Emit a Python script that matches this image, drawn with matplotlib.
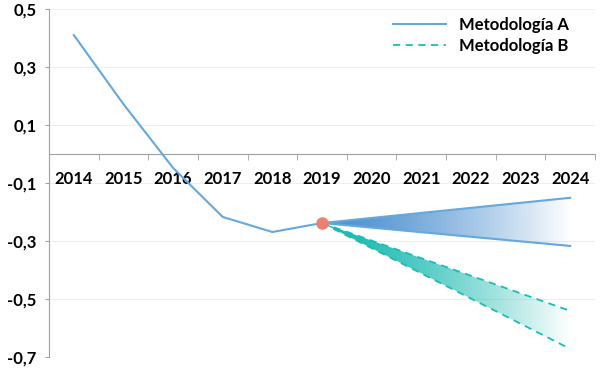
import numpy as np
import matplotlib
matplotlib.use('Agg')
import matplotlib.pyplot as plt
from matplotlib.patches import Polygon
from matplotlib.colors import to_rgb

years = ['2014', '2015', '2016', '2017', '2018', '2019', '2020', '2021', '2022', '2023', '2024']
hist = [0.41, 0.172, -0.048, -0.217, -0.269, -0.238]
# fan ends at 2024 (start at 2019 value)
fanA = [-0.151, -0.317]
fanB = [-0.541, -0.672]
yticks = [0.5, 0.3, 0.1, -0.1, -0.3, -0.5, -0.7]

colA = '#64a8de'
fillA = '#4b8fd0'
colB = '#1bbdb5'
fillB = '#14b8ae'

plt.rcParams['font.family'] = ['Lato', 'DejaVu Sans']
plt.rcParams['font.weight'] = 'bold'

fig = plt.figure(figsize=(6, 3.69), dpi=100)
ax = fig.add_axes([49 / 600, 12 / 369, 546 / 600, 348 / 369])
ax.set_xlim(-0.5, 10.5)
ax.set_ylim(-0.7, 0.5)

for y in yticks:
    ax.axhline(y, color='#eeeeee', lw=0.8, zorder=0)

x0 = len(hist) - 1
x1 = len(years) - 1


def fan(ends, color):
    start = hist[-1]
    verts = [(x0, start), (x1, ends[0]), (x1, ends[1])]
    poly = Polygon(verts, closed=True, facecolor='none', edgecolor='none')
    ax.add_patch(poly)
    n = 256
    rgb = np.array(to_rgb(color))
    t = np.linspace(0, 1, n)
    img = np.ones((2, n, 4))
    img[..., :3] = rgb
    img[..., 3] = 1 - t ** 1.4
    im = ax.imshow(img, extent=[x0, x1, min(ends + [start]), max(ends + [start])],
                   aspect='auto', origin='lower', zorder=1, interpolation='bilinear')
    im.set_clip_path(poly)


fan(fanA, fillA)
fan(fanB, fillB)

ax.plot(range(len(hist)), hist, color=colA, lw=1.5, zorder=3, label='Metodología A')
for e in fanA:
    ax.plot([x0, x1], [hist[-1], e], color=colA, lw=1.5, zorder=3)
for i, e in enumerate(fanB):
    ax.plot([x0, x1], [hist[-1], e], color=colB, lw=1.3, ls=(0, (4, 3)), zorder=3,
            label='Metodología B' if i == 0 else None)
ax.plot([x0], [hist[-1]], 'o', color='#ee8070', ms=8, zorder=4)

# axes
for s in ['top', 'right']:
    ax.spines[s].set_visible(False)
ax.spines['bottom'].set_position(('data', 0))
ax.spines['bottom'].set_color('#a0a0a0')
ax.spines['left'].set_color('#a0a0a0')
ax.set_yticks(yticks)
ax.set_yticklabels([('%.1f' % v).replace('.', ',') for v in yticks], fontsize=12)
ax.tick_params(axis='y', length=3, color='#a0a0a0', pad=6)
ax.set_xticks(range(len(years)))
ax.set_xticklabels(years, fontsize=12)
ax.tick_params(axis='x', which='major', length=0, pad=12)
ax.set_xticks(np.arange(0.5, 11, 1), minor=True)
ax.tick_params(axis='x', which='minor', length=4, color='#a0a0a0')

leg = ax.legend(loc='upper right', frameon=False, fontsize=12, handlelength=3.2,
                bbox_to_anchor=(0.98, 1.02), labelspacing=0.3)

fig.savefig('out.png', dpi=100)
